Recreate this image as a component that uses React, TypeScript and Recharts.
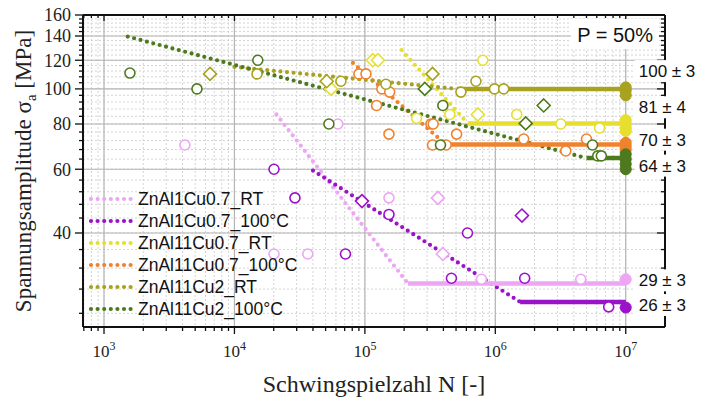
import React from 'react';
import {
  ComposedChart,
  Line,
  Scatter,
  XAxis,
  YAxis,
  CartesianGrid,
  ReferenceLine,
  ReferenceDot,
} from 'recharts';

// ---------- series meta ----------
const SERIES_NAMES = [
  'ZnAl1Cu0.7_RT',
  'ZnAl1Cu0.7_100°C',
  'ZnAl11Cu0.7_RT',
  'ZnAl11Cu0.7_100°C',
  'ZnAl11Cu2_RT',
  'ZnAl11Cu2_100°C',
];
const SERIES_COLORS = ['#eca6f4', '#9a12c9', '#e6df2e', '#f0822e', '#a8a21e', '#4e7a1e'];

// ---------- axis ticks ----------
const X_MAJOR = [1e3, 1e4, 1e5, 1e6, 1e7];
const X_EXPONENTS = ['3', '4', '5', '6', '7'];
const X_MINOR = [
  700, 800, 900,
  2e3, 3e3, 4e3, 5e3, 6e3, 7e3, 8e3, 9e3,
  2e4, 3e4, 4e4, 5e4, 6e4, 7e4, 8e4, 9e4,
  2e5, 3e5, 4e5, 5e5, 6e5, 7e5, 8e5, 9e5,
  2e6, 3e6, 4e6, 5e6, 6e6, 7e6, 8e6, 9e6,
];
const Y_MAJOR = [40, 60, 80, 100, 120, 140, 160];
const Y_MINOR = [
  24, 28, 32, 36, 44, 48, 52, 56, 64, 68, 72, 76, 84, 88, 92, 96,
  104, 108, 112, 116, 124, 128, 132, 136, 144, 148, 152, 156,
];
const X_DOMAIN = [690, 2e7];
const Y_DOMAIN = [22, 160];

// ---------- fitted curves (dotted Basquin part, solid fatigue limit) ----------
const fitRT1 = [{ n: 21000, s: 85 }, { n: 214000, s: 29 }];
const limRT1 = [{ n: 214000, s: 29 }, { n: 1e7, s: 29 }];
const fitHT1 = [{ n: 40000, s: 59.5 }, { n: 1.55e6, s: 25.8 }];
const limHT1 = [{ n: 1.55e6, s: 25.8 }, { n: 1e7, s: 25.8 }];
const fitRT2 = [{ n: 191000, s: 128 }, { n: 615000, s: 80.3 }];
const limRT2 = [{ n: 615000, s: 80.3 }, { n: 1e7, s: 80.3 }];
const fitHT2 = [{ n: 81000, s: 118 }, { n: 418000, s: 70.2 }];
const limHT2 = [{ n: 418000, s: 70.2 }, { n: 1e7, s: 70.2 }];
const fitRT3 = [{ n: 10000, s: 115 }, { n: 507000, s: 100 }];
const limRT3 = [{ n: 507000, s: 100 }, { n: 1e7, s: 100 }];
const fitHT3 = [{ n: 1520, s: 139.5 }, { n: 5.0e6, s: 64.4 }];
const limHT3 = [{ n: 5.0e6, s: 64.4 }, { n: 1e7, s: 64.4 }];

// ---------- test points ----------
const circRT1 = [
  { n: 4170, s: 70 }, { n: 62000, s: 80 }, { n: 153000, s: 50 }, { n: 20100, s: 35 },
  { n: 36500, s: 35 }, { n: 783000, s: 29.8 }, { n: 4.52e6, s: 29.8 },
];
const diaRT1 = [{ n: 363000, s: 50 }, { n: 396000, s: 35 }];
const runRT1 = [{ n: 1e7, s: 29.8 }];

const circHT1 = [
  { n: 20100, s: 60 }, { n: 29100, s: 50 }, { n: 71000, s: 35 }, { n: 153000, s: 45 },
  { n: 612000, s: 40 }, { n: 461000, s: 30 }, { n: 1.68e6, s: 30 }, { n: 7.4e6, s: 25 },
];
const diaHT1 = [{ n: 95000, s: 49 }, { n: 1.6e6, s: 44.7 }];
const runHT1 = [{ n: 1e7, s: 24.9 }];

const circRT2 = [
  { n: 249000, s: 83 }, { n: 448000, s: 85 }, { n: 802000, s: 120 }, { n: 1.46e6, s: 85 },
  { n: 3.18e6, s: 80 }, { n: 6.3e6, s: 78 },
];
const diaRT2 = [{ n: 115000, s: 120 }, { n: 126000, s: 120 }, { n: 55000, s: 100 }, { n: 735000, s: 85 }];
const runRT2 = [{ n: 1e7, s: 82 }, { n: 1e7, s: 80 }, { n: 1e7, s: 78 }, { n: 1e7, s: 76.5 }];

const circHT2 = [
  { n: 90000, s: 110 }, { n: 102000, s: 110 }, { n: 123000, s: 90 }, { n: 135000, s: 100 },
  { n: 155000, s: 98 }, { n: 153000, s: 75 }, { n: 321000, s: 80 }, { n: 334000, s: 80 },
  { n: 330000, s: 70 }, { n: 420000, s: 70 }, { n: 505000, s: 75 }, { n: 1.65e6, s: 72.7 },
  { n: 3.47e6, s: 67.4 }, { n: 5.0e6, s: 72.7 },
];
const diaHT2: { n: number; s: number }[] = [];
const runHT2 = [{ n: 1e7, s: 71 }, { n: 1e7, s: 69.5 }, { n: 1e7, s: 68 }];

const circRT3 = [
  { n: 14900, s: 110 }, { n: 65500, s: 105 }, { n: 145000, s: 103 }, { n: 545000, s: 98 },
  { n: 710000, s: 105 }, { n: 986000, s: 100 }, { n: 1.16e6, s: 100 },
];
const diaRT3 = [{ n: 6500, s: 110 }, { n: 51000, s: 105 }, { n: 330000, s: 110 }];
const runRT3 = [{ n: 1e7, s: 101 }, { n: 1e7, s: 99 }, { n: 1e7, s: 96 }];

const circHT3 = [
  { n: 1580, s: 110.6 }, { n: 5160, s: 100 }, { n: 15100, s: 120 }, { n: 53000, s: 80 },
  { n: 396000, s: 90 }, { n: 380000, s: 70 }, { n: 5.56e6, s: 70 }, { n: 6.1e6, s: 65.3 },
  { n: 6.5e6, s: 65.3 },
];
const diaHT3 = [{ n: 288000, s: 100 }, { n: 1.71e6, s: 80.3 }, { n: 2.35e6, s: 90 }];
const runHT3 = [{ n: 1e7, s: 66 }, { n: 1e7, s: 64 }, { n: 1e7, s: 62 }, { n: 1e7, s: 60 }];

// ---------- fatigue-limit annotations ----------
const LIMIT_LABELS = ['100 ± 3', '81 ± 4', '70 ± 3', '64 ± 3', '29 ± 3', '26 ± 3'];
const LIMIT_LABEL_ANCHORS = [112, 89, 72.4, 61.4, 29.6, 25.3];
const PROB_LABEL = 'P = 50%';

const FITS = [fitRT1, fitHT1, fitRT2, fitHT2, fitRT3, fitHT3];
const LIMITS = [limRT1, limHT1, limRT2, limHT2, limRT3, limHT3];
const CIRCLES = [circRT1, circHT1, circRT2, circHT2, circRT3, circHT3];
const DIAMONDS = [diaRT1, diaHT1, diaRT2, diaHT2, diaRT3, diaHT3];
const RUNOUTS = [runRT1, runHT1, runRT2, runHT2, runRT3, runHT3];

const SERIF = '"Liberation Serif", "Times New Roman", serif';
const SANS = '"Liberation Sans", Arial, sans-serif';

const X_TICKS = [...X_MAJOR, ...X_MINOR].sort((a, b) => a - b);
const Y_TICKS = [...Y_MAJOR, ...Y_MINOR].sort((a, b) => a - b);

const XTickBottom = (props: any) => {
  const { x, y, payload } = props;
  const idx = X_MAJOR.indexOf(payload.value);
  const major = idx >= 0;
  return (
    <g>
      <line x1={x} x2={x} y1={y} y2={y + (major ? 7 : 4)} stroke="#111" strokeWidth={1.3} />
      {major && (
        <text x={x} y={y + 30} textAnchor="middle" fontFamily={SERIF} fontSize={17} fill="#222">
          10
          <tspan dy={-7} fontSize={12}>
            {X_EXPONENTS[idx]}
          </tspan>
        </text>
      )}
    </g>
  );
};

const XTickTop = (props: any) => {
  const { x, y, payload } = props;
  const major = X_MAJOR.includes(payload.value);
  return <line x1={x} x2={x} y1={y} y2={y + (major ? 6 : 3)} stroke="#111" strokeWidth={1.3} />;
};

const YTickLeft = (props: any) => {
  const { x, y, payload } = props;
  const major = Y_MAJOR.includes(payload.value);
  return (
    <g>
      <line x1={x - (major ? 8 : 4)} x2={x} y1={y} y2={y} stroke="#111" strokeWidth={1.3} />
      {major && (
        <text x={x - 12} y={y} dy="0.35em" textAnchor="end" fontFamily={SERIF} fontSize={18} fill="#222">
          {payload.value}
        </text>
      )}
    </g>
  );
};

const YTickRight = (props: any) => {
  const { x, y, payload } = props;
  const major = Y_MAJOR.includes(payload.value);
  return <line x1={x - (major ? 8 : 4)} x2={x} y1={y} y2={y} stroke="#111" strokeWidth={1.3} />;
};

const makeOpenCircle = (color: string) => (p: any) =>
  <circle cx={p.cx} cy={p.cy} r={5} fill="#fff" stroke={color} strokeWidth={1.6} />;
const makeOpenDiamond = (color: string) => (p: any) =>
  <polygon
    points={`${p.cx},${p.cy - 6.5} ${p.cx + 6.5},${p.cy} ${p.cx},${p.cy + 6.5} ${p.cx - 6.5},${p.cy}`}
    fill="#fff"
    stroke={color}
    strokeWidth={1.6}
  />;
const makeFilled = (color: string) => (p: any) =>
  <circle cx={p.cx} cy={p.cy} r={5.5} fill={color} stroke={color} strokeWidth={1} />;

const makeLimitLabel = (text: string) => (p: any) => (
  <g>
    <rect x={p.cx + 9} y={p.cy - 11} width={68} height={22} fill="#fff" />
    <text x={p.cx + 13} y={p.cy} dy="0.36em" fontFamily={SANS} fontSize={17} fill="#111">
      {text}
    </text>
  </g>
);

const probLabel = (p: any) => (
  <g>
    <rect x={p.cx - 94} y={p.cy + 4} width={88} height={30} fill="#fff" />
    <text x={p.cx - 12} y={p.cy + 27} textAnchor="end" fontFamily={SANS} fontSize={20} fill="#111">
      {PROB_LABEL}
    </text>
  </g>
);

const xLabel = (props: any) => {
  const vb = props.viewBox;
  return (
    <text x={vb.x + vb.width / 2} y={vb.y + 65} textAnchor="middle" fontFamily={SERIF} fontSize={24} fill="#222">
      Schwingspielzahl N [-]
    </text>
  );
};

const yLabel = (props: any) => {
  const vb = props.viewBox;
  const cx = 31;
  const cy = vb.y + vb.height / 2;
  return (
    <text
      x={cx}
      y={cy}
      transform={`rotate(-90 ${cx} ${cy})`}
      textAnchor="middle"
      fontFamily={SERIF}
      fontSize={23}
      fill="#222"
    >
      Spannungsamplitude σ
      <tspan dy={5} fontSize={15}>a</tspan>
      <tspan dy={-5}> [MPa]</tspan>
    </text>
  );
};

export default function App() {
  return (
    <div style={{ position: 'absolute', left: 0, top: 0, width: 701, height: 403, background: '#fff' }}>
      <ComposedChart width={701} height={403} margin={{ top: 0, right: 0, bottom: 0, left: 0 }}>
        <CartesianGrid stroke="#cfcfcf" strokeDasharray="2 2" strokeWidth={0.9} />
        <XAxis
          xAxisId={0}
          dataKey="n"
          type="number"
          scale="log"
          domain={X_DOMAIN}
          allowDataOverflow
          ticks={X_TICKS}
          interval={0}
          tickSize={0}
          tickMargin={0}
          tickLine={false}
          tick={<XTickBottom />}
          height={76}
          axisLine={{ stroke: '#111', strokeWidth: 2 }}
          label={xLabel}
        />
        <XAxis
          xAxisId="top"
          orientation="top"
          dataKey="n"
          type="number"
          scale="log"
          domain={X_DOMAIN}
          allowDataOverflow
          ticks={X_TICKS}
          interval={0}
          tickSize={0}
          tickMargin={0}
          tickLine={false}
          tick={<XTickTop />}
          height={15}
          axisLine={{ stroke: '#111', strokeWidth: 2 }}
        />
        <YAxis
          yAxisId={0}
          dataKey="s"
          type="number"
          scale="log"
          domain={Y_DOMAIN}
          allowDataOverflow
          ticks={Y_TICKS}
          interval={0}
          tickSize={0}
          tickMargin={0}
          tickLine={false}
          tick={<YTickLeft />}
          width={83}
          axisLine={{ stroke: '#111', strokeWidth: 2 }}
          label={yLabel}
        />
        <YAxis
          yAxisId="right"
          orientation="right"
          dataKey="s"
          type="number"
          scale="log"
          domain={Y_DOMAIN}
          allowDataOverflow
          ticks={Y_TICKS}
          interval={0}
          tickSize={0}
          tickMargin={0}
          tickLine={false}
          tick={<YTickRight />}
          width={36}
          axisLine={{ stroke: '#111', strokeWidth: 2 }}
        />

        {X_MAJOR.map((v) => (
          <ReferenceLine key={'xm' + v} x={v} stroke="#b4b4b4" strokeWidth={1.2} />
        ))}
        {Y_MAJOR.filter((v) => v < 160).map((v) => (
          <ReferenceLine key={'ym' + v} y={v} stroke="#b4b4b4" strokeWidth={1.2} />
        ))}

        {FITS.map((d, i) => (
          <Line
            key={'fit' + i}
            data={d}
            dataKey="s"
            stroke={SERIES_COLORS[i]}
            strokeWidth={4.2}
            strokeDasharray="0 6.6"
            strokeLinecap="round"
            dot={false}
            activeDot={false}
            legendType="none"
            isAnimationActive={false}
          />
        ))}
        {LIMITS.map((d, i) => (
          <Line
            key={'lim' + i}
            data={d}
            dataKey="s"
            stroke={SERIES_COLORS[i]}
            strokeWidth={4.5}
            dot={false}
            activeDot={false}
            legendType="none"
            isAnimationActive={false}
          />
        ))}
        {CIRCLES.map((d, i) => (
          <Scatter
            key={'c' + i}
            data={d}
            dataKey="s"
            shape={makeOpenCircle(SERIES_COLORS[i])}
            legendType="none"
            isAnimationActive={false}
          />
        ))}
        {DIAMONDS.map((d, i) => (
          <Scatter
            key={'d' + i}
            data={d}
            dataKey="s"
            shape={makeOpenDiamond(SERIES_COLORS[i])}
            legendType="none"
            isAnimationActive={false}
          />
        ))}
        {RUNOUTS.map((d, i) => (
          <Scatter
            key={'r' + i}
            data={d}
            dataKey="s"
            shape={makeFilled(SERIES_COLORS[i])}
            legendType="none"
            isAnimationActive={false}
          />
        ))}

        {LIMIT_LABELS.map((t, i) => (
          <ReferenceDot
            key={'lab' + i}
            x={1e7}
            y={LIMIT_LABEL_ANCHORS[i]}
            ifOverflow="visible"
            zIndex={2000}
            shape={makeLimitLabel(t)}
          />
        ))}
        <ReferenceDot x={X_DOMAIN[1]} y={Y_DOMAIN[1]} ifOverflow="visible" zIndex={2000} shape={probLabel} />
      </ComposedChart>

      <div style={{ position: 'absolute', left: 88, top: 188 }}>
        {SERIES_NAMES.map((name, i) => (
          <div key={name} style={{ display: 'flex', alignItems: 'center', height: 22 }}>
            <svg width={50} height={22} style={{ display: 'block' }}>
              <line
                x1={3}
                x2={45}
                y1={11}
                y2={11}
                stroke={SERIES_COLORS[i]}
                strokeWidth={4.2}
                strokeDasharray="0 6.6"
                strokeLinecap="round"
              />
            </svg>
            <span style={{ fontFamily: SANS, fontSize: 17.5, color: '#111', lineHeight: '22px', whiteSpace: 'nowrap' }}>
              {name}
            </span>
          </div>
        ))}
      </div>
    </div>
  );
}
